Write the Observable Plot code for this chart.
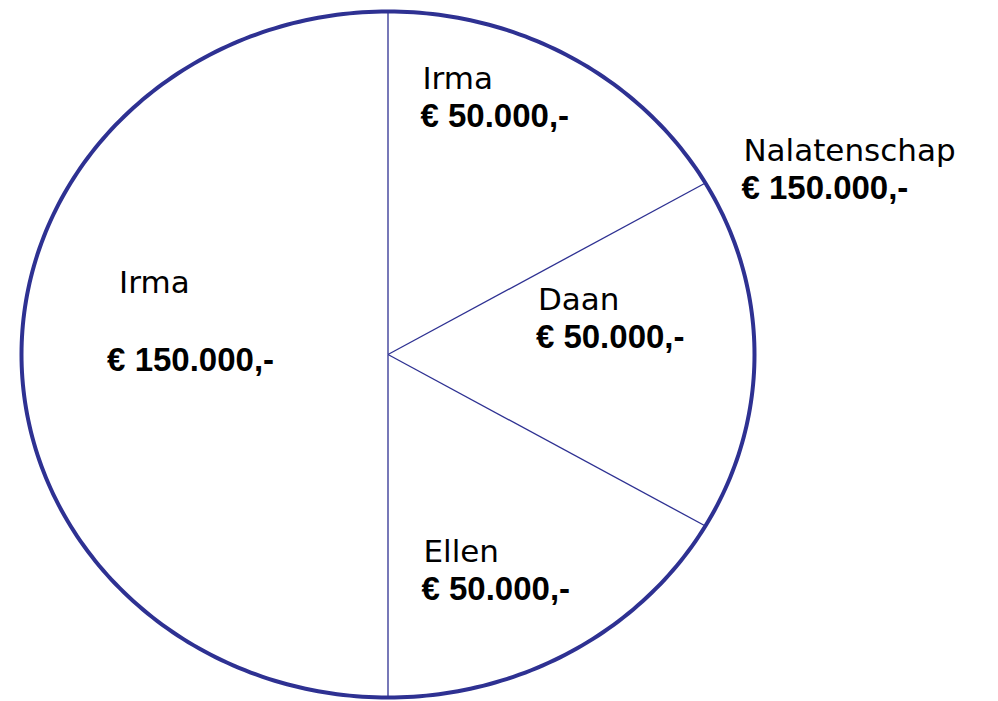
<!DOCTYPE html>
<html>
<head>
<meta charset="utf-8">
<script src="https://cdn.jsdelivr.net/npm/d3@7"></script>
<script src="https://cdn.jsdelivr.net/npm/@observablehq/plot@0.6"></script>
<style>
  html, body { margin: 0; padding: 0; background: #fff; }
  svg { display: block; }
</style>
</head>
<body>
<div id="chart"></div>
<script>
// ---- data ----
const names = ["Irma", "Daan", "Ellen", "Irma"];          // clockwise from the top
const amounts = [50000, 50000, 50000, 150000];            // euros
const groupName = "Nalatenschap";                          // estate = the three right-hand slices
const groupMembers = [0, 1, 2];

// ---- layout (pixel nudges of the label text, not data) ----
const labelRadius = 0.63;
const nudges = [      // [name dx, name dy, amount dx, amount dy]
  [-81, -78, -83, -40],
  [-81, -45, -83, -7],
  [-80, 20, -82, 58],
  [-38, -62, -50, 16]
];
const groupNudge = [38, -22, 36, 16];

const navy = "#2e3192";
const nl = d3.formatLocale({decimal: ",", thousands: ".", grouping: [3], currency: ["€ ", ""]});
const fmt = v => "€ " + nl.format(",")(v) + ",-";

const arcs = d3.pie().sort(null).value(d => d)(amounts);

// outline of the pie (ellipse in unit coordinates)
const rim = d3.range(0, 361, 1).map(a => {
  const t = a * Math.PI / 180;
  return {u: Math.sin(t), v: Math.cos(t)};
});

// slice boundaries (spokes)
const spokes = arcs.map(a => ({u: Math.sin(a.startAngle), v: Math.cos(a.startAngle)}));

// slice labels at the arc centroid
const labels = arcs.map((a, i) => {
  const m = (a.startAngle + a.endAngle) / 2;
  return {name: names[i], amount: amounts[i], u: labelRadius * Math.sin(m), v: labelRadius * Math.cos(m)};
});

// group label where the group's first inner boundary meets the rim
const gAngle = arcs[groupMembers[0]].endAngle;
const group = [{
  name: groupName,
  amount: d3.sum(groupMembers, i => amounts[i]),
  u: Math.sin(gAngle), v: Math.cos(gAngle)
}];

const nameStyle = {textAnchor: "start", lineAnchor: "bottom", fontSize: 31, fontFamily: "DejaVu Sans", fill: "#000"};
const amountStyle = {textAnchor: "start", lineAnchor: "bottom", fontSize: 33, fontWeight: "bold", fontFamily: "Liberation Sans, Arial, sans-serif", fill: "#000"};

const textMarks = labels.flatMap((d, i) => [
  Plot.text([d], {x: "u", y: "v", text: "name", dx: nudges[i][0], dy: nudges[i][1], ...nameStyle}),
  Plot.text([d], {x: "u", y: "v", text: d => fmt(d.amount), dx: nudges[i][2], dy: nudges[i][3], ...amountStyle})
]);
textMarks.push(
  Plot.text(group, {x: "u", y: "v", text: "name", dx: groupNudge[0], dy: groupNudge[1], ...nameStyle}),
  Plot.text(group, {x: "u", y: "v", text: d => fmt(d.amount), dx: groupNudge[2], dy: groupNudge[3], ...amountStyle})
);

const chart = Plot.plot({
  width: 998,
  height: 701,
  marginLeft: 21,
  marginRight: 244,
  marginTop: 11,
  marginBottom: 4,
  x: {domain: [-1, 1], axis: null},
  y: {domain: [-1, 1], axis: null},
  style: {background: "#fff", overflow: "visible"},
  marks: [
    Plot.link(spokes, {x1: 0, y1: 0, x2: "u", y2: "v", stroke: navy, strokeWidth: 1.3}),
    Plot.line(rim, {x: "u", y: "v", stroke: navy, strokeWidth: 4, curve: "linear-closed"}),
    ...textMarks
  ]
});
document.getElementById("chart").appendChild(chart);
</script>
</body>
</html>
